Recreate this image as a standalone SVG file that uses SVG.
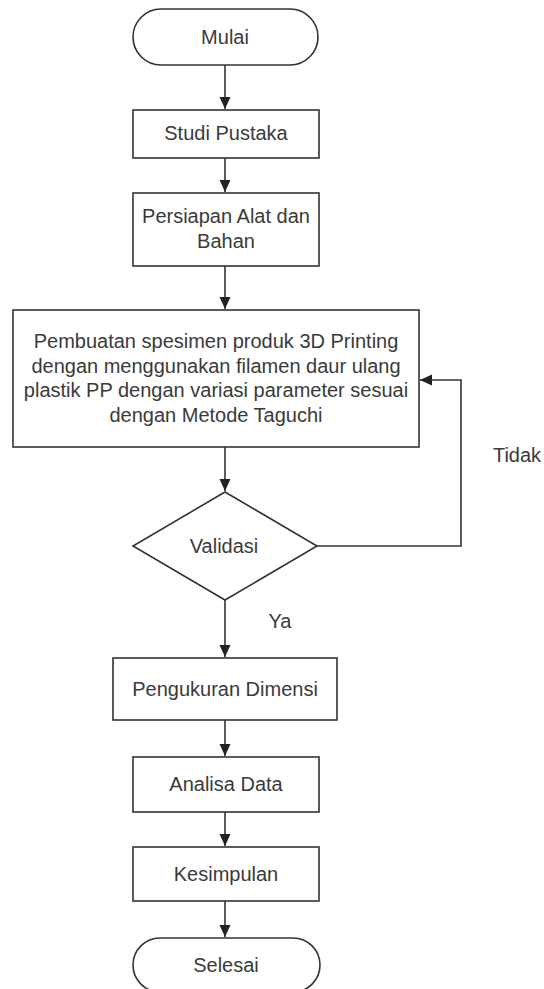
<svg xmlns="http://www.w3.org/2000/svg" width="544" height="989" viewBox="0 0 544 989">
<style>
.s{fill:#fff;stroke:#333;stroke-width:1.6}
.t{font-family:"Liberation Sans",Arial,sans-serif;font-size:20px;fill:#3a3a3a;text-anchor:middle}
.c{fill:none;stroke:#333;stroke-width:1.6}
</style>
<defs>
<marker id="a" viewBox="0 0 12 12" refX="12" refY="6" markerWidth="12" markerHeight="12" markerUnits="userSpaceOnUse" orient="auto">
<path d="M0,0.5 L12,6 L0,11.5 z" fill="#222"/>
</marker>
</defs>
<rect width="544" height="989" fill="#fff"/>
<g id="connectors">
<line class="c" x1="225" y1="65" x2="225" y2="109" marker-end="url(#a)"/>
<line class="c" x1="225" y1="158" x2="225" y2="192" marker-end="url(#a)"/>
<line class="c" x1="225" y1="266" x2="225" y2="309" marker-end="url(#a)"/>
<line class="c" x1="225" y1="447" x2="225" y2="491" marker-end="url(#a)"/>
<polyline class="c" points="317,546 461,546 461,380 420,380" marker-end="url(#a)"/>
<line class="c" x1="225" y1="600" x2="225" y2="657" marker-end="url(#a)"/>
<line class="c" x1="225" y1="720" x2="225" y2="756" marker-end="url(#a)"/>
<line class="c" x1="225" y1="812" x2="225" y2="846" marker-end="url(#a)"/>
<line class="c" x1="225" y1="901" x2="225" y2="937" marker-end="url(#a)"/>
<text class="t" x="280" y="628">Ya</text>
<text class="t" x="517" y="462">Tidak</text>
</g>
<g id="mulai">
<rect class="s" x="133" y="9" width="185" height="56" rx="28" ry="28"/>
<text class="t" x="225" y="44">Mulai</text>
</g>
<g id="studi">
<rect class="s" x="133" y="110" width="186" height="48"/>
<text class="t" x="226" y="140">Studi Pustaka</text>
</g>
<g id="persiapan">
<rect class="s" x="133" y="193" width="186" height="73"/>
<text class="t" x="226" y="223">Persiapan Alat dan</text>
<text class="t" x="226" y="248">Bahan</text>
</g>
<g id="pembuatan">
<rect class="s" x="13" y="310" width="406" height="137"/>
<text class="t" x="216" y="348">Pembuatan spesimen produk 3D Printing</text>
<text class="t" x="216" y="373">dengan menggunakan filamen daur ulang</text>
<text class="t" x="216" y="397">plastik PP dengan variasi parameter sesuai</text>
<text class="t" x="216" y="422">dengan Metode Taguchi</text>
</g>
<g id="validasi">
<polygon class="s" points="225,492 317,546 225,600 133,546"/>
<text class="t" x="224" y="553">Validasi</text>
</g>
<g id="pengukuran">
<rect class="s" x="113" y="658" width="224" height="62"/>
<text class="t" x="225" y="696">Pengukuran Dimensi</text>
</g>
<g id="analisa">
<rect class="s" x="133" y="757" width="186" height="55"/>
<text class="t" x="226" y="791">Analisa Data</text>
</g>
<g id="kesimpulan">
<rect class="s" x="133" y="847" width="186" height="54"/>
<text class="t" x="226" y="881">Kesimpulan</text>
</g>
<g id="selesai">
<rect class="s" x="133" y="938" width="187" height="54" rx="27" ry="27"/>
<text class="t" x="226" y="972">Selesai</text>
</g>
</svg>
